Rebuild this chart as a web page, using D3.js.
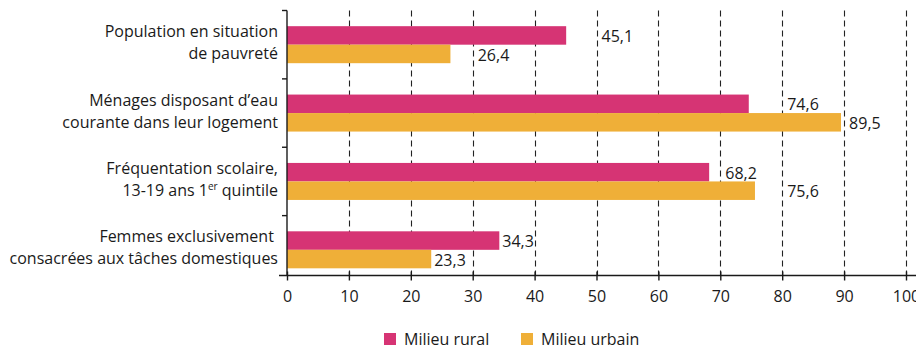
<!DOCTYPE html>
<html>
<head>
<meta charset="utf-8">
<script src="https://cdn.jsdelivr.net/npm/d3@7"></script>
<style>
  html, body { margin: 0; padding: 0; background: #fff; }
  svg { display: block; }
  text { font-family: "Open Sans", "Noto Sans", sans-serif; fill: #1a1a1a; }
</style>
</head>
<body>
<svg id="chart" width="916" height="352"></svg>
<script>
// Indicators (two-line labels, superscript between |…|), values in percent
const categories = [
  ["Population en situation", "de pauvreté"],
  ["Ménages disposant d\u2019eau", "courante dans leur logement"],
  ["Fréquentation scolaire,", "13-19 ans 1|er| quintile"],
  ["Femmes exclusivement ", "consacrées aux tâches domestiques"]
];
const rural = [45.1, 74.6, 68.2, 34.3];
const urbain = [26.4, 89.5, 75.6, 23.3];
const seriesNames = ["Milieu rural", "Milieu urbain"];
const xTicks = [0, 10, 20, 30, 40, 50, 60, 70, 80, 90, 100];

const colors = ["#D63474", "#EFAF38"];
const fmt = v => String(v).replace(".", ",");
const fontSize = 16;

const svg = d3.select("#chart");
const x = d3.scaleLinear().domain([0, 100]).range([287, 906]);
const y = d3.scaleBand().domain(d3.range(categories.length)).range([10.5, 284]);
const axisY = 275.5;
const barH = 18.5;

// dashed vertical gridlines
svg.append("g").selectAll("line")
  .data(xTicks.filter(t => t > 0))
  .join("line")
  .attr("x1", d => Math.round(x(d)) + 0.5).attr("x2", d => Math.round(x(d)) + 0.5)
  .attr("y1", y.range()[0]).attr("y2", axisY)
  .attr("stroke", "#222").attr("stroke-width", 1.1)
  .attr("stroke-dasharray", "6,4");

// bars
const groups = svg.append("g").selectAll("g")
  .data(categories.map((c, i) => ({ i, vals: [rural[i], urbain[i]] })))
  .join("g");

groups.each(function(d) {
  const g = d3.select(this);
  const c = y(d.i) + y.bandwidth() / 2;
  d.vals.forEach((v, k) => {
    g.append("rect")
      .attr("x", x(0)).attr("y", c - barH + k * barH)
      .attr("width", x(v) - x(0)).attr("height", barH)
      .attr("fill", colors[k]);
  });
});

// value labels: right of the bar, or just past the next gridline when it is too close
const labelRoom = 35;
groups.each(function(d) {
  const g = d3.select(this);
  const c = y(d.i) + y.bandwidth() / 2;
  d.vals.forEach((v, k) => {
    const end = x(v);
    const nextGrid = xTicks.map(x).find(p => p > end);
    let lx = end + 3;
    if (nextGrid !== undefined && nextGrid - end < labelRoom) lx = nextGrid + 5;
    g.append("text")
      .attr("font-size", fontSize)
      .attr("dy", "0.35em")
      .attr("x", lx)
      .attr("y", c - barH / 2 + k * barH + 1)
      .text(fmt(v));
  });
});

// y axis line and category ticks
svg.append("line")
  .attr("x1", x(0)).attr("x2", x(0))
  .attr("y1", y.range()[0]).attr("y2", axisY)
  .attr("stroke", "#1a1a1a").attr("stroke-width", 1.4);
svg.append("g").selectAll("line")
  .data(categories.map((c, i) => y(i)))
  .join("line")
  .attr("x1", x(0) - 5).attr("x2", x(0))
  .attr("y1", d => d).attr("y2", d => d)
  .attr("stroke", "#1a1a1a").attr("stroke-width", 1.4);

// category labels
svg.append("g").selectAll("text")
  .data(categories.map((c, i) => ({ c, i })))
  .join("text")
  .attr("text-anchor", "end")
  .attr("font-size", fontSize)
  .each(function(d) {
    const t = d3.select(this);
    const c = y(d.i) + y.bandwidth() / 2;
    d.c.forEach((line, j) => {
      const ts = t.append("tspan").attr("x", 278).attr("y", c - 7.5 + j * 22);
      let raised = false;
      line.split("|").forEach((p, pi) => {
        if (pi % 2 === 1) {
          ts.append("tspan").attr("font-size", 10).attr("dy", -6).text(p);
          raised = true;
        } else if (p) {
          const s = ts.append("tspan").text(p);
          if (raised) { s.attr("dy", 6); raised = false; }
        }
      });
    });
  });

// x axis
svg.append("line")
  .attr("x1", 279).attr("x2", 916)
  .attr("y1", axisY).attr("y2", axisY)
  .attr("stroke", "#1a1a1a").attr("stroke-width", 1.4);
const xg = svg.append("g").attr("transform", `translate(0,${axisY})`)
  .call(d3.axisBottom(x).tickValues(xTicks).tickSize(5).tickSizeOuter(0).tickPadding(10));
xg.select(".domain").remove();
xg.selectAll(".tick line").attr("y1", -4).attr("stroke", "#1a1a1a").attr("stroke-width", 1.4);
xg.selectAll(".tick text")
  .attr("font-size", fontSize)
  .style("font-family", "'Open Sans', 'Noto Sans', sans-serif")
  .attr("fill", "#1a1a1a");

// legend
const legend = svg.append("g").attr("transform", "translate(384,333)");
const legendX = [0, 137];
seriesNames.forEach((n, k) => {
  const lg = legend.append("g").attr("transform", `translate(${legendX[k]},0)`);
  lg.append("rect").attr("width", 12).attr("height", 12).attr("fill", colors[k]);
  lg.append("text").attr("x", 20).attr("y", 6).attr("dy", "0.35em")
    .attr("font-size", fontSize).text(n);
});
</script>
</body>
</html>
